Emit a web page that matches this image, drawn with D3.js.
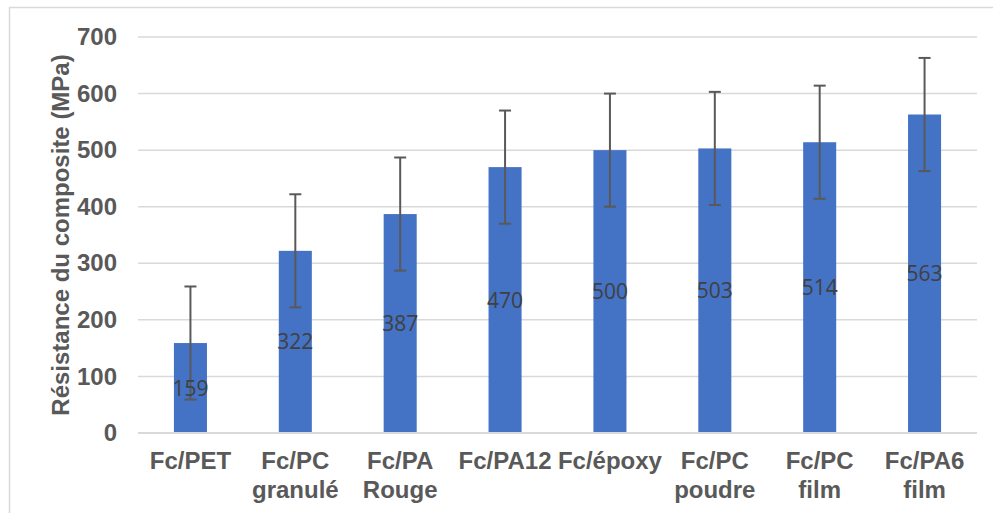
<!DOCTYPE html>
<html><head><meta charset="utf-8">
<script src="https://cdn.jsdelivr.net/npm/d3@7"></script>
<style>body{margin:0;background:#fff;}svg{display:block;font-family:"Liberation Sans",Arial,sans-serif;}</style>
</head><body>
<svg id="c" width="993" height="513"></svg>
<script>
const categories = [["Fc/PET"],["Fc/PC","granulé"],["Fc/PA","Rouge"],["Fc/PA12"],["Fc/époxy"],["Fc/PC","poudre"],["Fc/PC","film"],["Fc/PA6","film"]];
const values = [159,322,387,470,500,503,514,563];
const errors = [100,100,100,100,100,100,100,100];
const yTicks = [0,100,200,300,400,500,600,700];
const yTitle = "Résistance du composite (MPa)";

const svg = d3.select("#c");
const m = {l:138, r:977, t:37, b:433};
svg.append("rect").attr("x",9.5).attr("y",7.5).attr("width",1000).attr("height",520)
  .attr("fill","none").attr("stroke","#d9d9d9").attr("stroke-width",1.5);

const x = d3.scaleBand().domain(d3.range(values.length)).range([m.l,m.r]).paddingInner(0.685).paddingOuter(0.3425);
const y = d3.scaleLinear().domain([0,700]).range([m.b,m.t]);

// gridlines
svg.append("g").selectAll("line").data(yTicks.slice(1)).join("line")
  .attr("x1",m.l).attr("x2",m.r).attr("y1",d=>y(d)).attr("y2",d=>y(d))
  .attr("stroke","#d9d9d9").attr("stroke-width",1.5);

// y axis labels
const ya = svg.append("g").attr("transform",`translate(${m.l},0)`)
  .call(d3.axisLeft(y).tickValues(yTicks).tickSize(0).tickPadding(21));
ya.select(".domain").remove();
ya.selectAll("text").attr("font-size",24).attr("font-weight","bold").attr("fill","#595959")
  .attr("font-family","Liberation Sans, Arial, sans-serif");

// bars
svg.append("g").selectAll("rect").data(values).join("rect")
  .attr("x",(d,i)=>x(i)).attr("width",x.bandwidth())
  .attr("y",d=>y(d)).attr("height",d=>y(0)-y(d)).attr("fill","#4472c4");

// baseline
svg.append("line").attr("x1",m.l).attr("x2",m.r).attr("y1",y(0)).attr("y2",y(0))
  .attr("stroke","#d9d9d9").attr("stroke-width",2);

// error bars
const eg = svg.append("g").attr("stroke","#595959").attr("stroke-width",2);
values.forEach((v,i)=>{
  const cx = x(i)+x.bandwidth()/2;
  eg.append("line").attr("x1",cx).attr("x2",cx).attr("y1",y(v+errors[i])).attr("y2",y(v-errors[i]));
  eg.append("line").attr("x1",cx-6).attr("x2",cx+6).attr("y1",y(v+errors[i])).attr("y2",y(v+errors[i]));
  eg.append("line").attr("x1",cx-6).attr("x2",cx+6).attr("y1",y(v-errors[i])).attr("y2",y(v-errors[i]));
});

// data labels
svg.append("g").selectAll("text").data(values).join("text")
  .attr("x",(d,i)=>x(i)+x.bandwidth()/2).attr("y",d=>(y(d)+y(0))/2).attr("dy","0.36em")
  .attr("text-anchor","middle").attr("font-size",21).attr("fill","#404040")
  .attr("font-family","Open Sans, sans-serif").text(d=>d);

// x labels
const xl = svg.append("g");
categories.forEach((lines,i)=>{
  const t = xl.append("text").attr("x",x(i)+x.bandwidth()/2).attr("y",469)
    .attr("text-anchor","middle").attr("font-size",24).attr("font-weight","bold").attr("fill","#595959");
  lines.forEach((s,j)=>t.append("tspan").attr("x",x(i)+x.bandwidth()/2).attr("dy",j?29:0).text(s));
});

// y title
svg.append("text").attr("transform",`translate(69,${(m.t+m.b)/2}) rotate(-90)`)
  .attr("text-anchor","middle").attr("font-size",24).attr("font-weight","bold").attr("fill","#595959")
  .text(yTitle);
</script>
</body></html>
